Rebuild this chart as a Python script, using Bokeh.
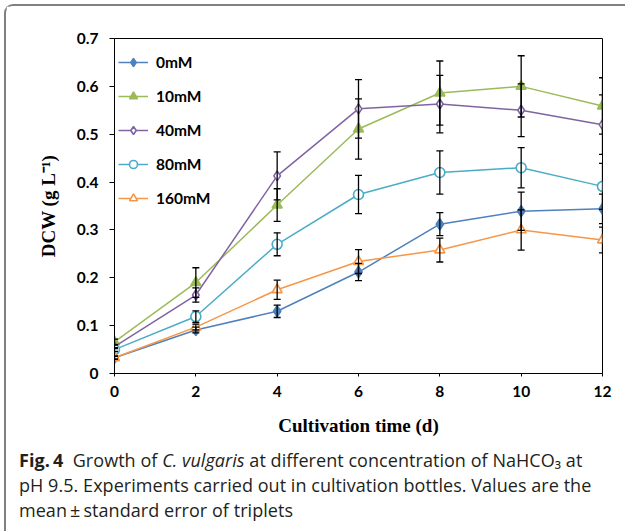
from bokeh.plotting import figure
from bokeh.models import ColumnDataSource, Whisker, TeeHead, Div, FixedTicker, Legend
from bokeh.layouts import column
from bokeh.embed import file_html
from bokeh.resources import INLINE

# ---- data ----
days = [0, 2, 4, 6, 8, 10, 12]
series_names = ["0mM", "10mM", "40mM", "80mM", "160mM"]
dcw_0mM = [0.033, 0.091, 0.130, 0.212, 0.312, 0.339, 0.344]
dcw_10mM = [0.066, 0.190, 0.352, 0.511, 0.586, 0.600, 0.559]
dcw_40mM = [0.056, 0.164, 0.413, 0.553, 0.563, 0.550, 0.520]
dcw_80mM = [0.050, 0.119, 0.270, 0.374, 0.420, 0.430, 0.391]
dcw_160mM = [0.033, 0.097, 0.175, 0.234, 0.258, 0.300, 0.279]
err_0mM = [0.003, 0.006, 0.013, 0.018, 0.024, 0.040, 0.031]
err_10mM = [0.006, 0.031, 0.034, 0.063, 0.067, 0.064, 0.059]
err_40mM = [0.004, 0.015, 0.050, 0.061, 0.060, 0.055, 0.062]
err_80mM = [0.004, 0.012, 0.024, 0.040, 0.045, 0.042, 0.048]
err_160mM = [0.003, 0.006, 0.020, 0.025, 0.025, 0.042, 0.027]
x_ticks = [0, 2, 4, 6, 8, 10, 12]
y_ticks = [0, 0.1, 0.2, 0.3, 0.4, 0.5, 0.6, 0.7]

values = [dcw_0mM, dcw_10mM, dcw_40mM, dcw_80mM, dcw_160mM]
errors = [err_0mM, err_10mM, err_40mM, err_80mM, err_160mM]
colors = ["#4F81BD", "#9BBB59", "#8064A2", "#4BACC6", "#F79646"]
markers = ["diamond", "triangle", "diamond", "circle", "triangle"]
filled = [True, True, False, False, False]
msizes = [11, 10, 10, 10, 10]

p = figure(width=617, height=434, x_range=(0, 12), y_range=(0, 0.7),
           output_backend="svg", toolbar_location=None,
           min_border_left=108, min_border_right=21, min_border_top=32, min_border_bottom=67)
p.grid.visible = False
p.outline_line_color = "black"
p.outline_line_width = 1
p.background_fill_color = "white"
p.border_fill_color = "white"

tick_font = "Lato"
for ax in (p.xaxis[0], p.yaxis[0]):
    ax.major_label_text_font = tick_font
    ax.major_label_text_font_style = "bold"
    ax.major_label_text_font_size = "15.5px"
    ax.major_label_text_color = "black"
    ax.axis_line_color = "black"
    ax.major_tick_line_color = "black"
    ax.minor_tick_line_color = None
    ax.major_tick_in = 0
    ax.axis_label_text_font = "Liberation Serif"
    ax.axis_label_text_font_style = "bold"
    ax.axis_label_text_font_size = "19px"
    ax.axis_label_text_color = "black"

p.xaxis.ticker = FixedTicker(ticks=x_ticks)
p.yaxis.ticker = FixedTicker(ticks=y_ticks)
p.yaxis.major_label_overrides = {0: "0"}
p.xaxis.major_tick_out = 3
p.yaxis.major_tick_out = 5
p.xaxis.major_label_standoff = 9
p.yaxis.major_label_standoff = 11
p.xaxis.axis_label = "Cultivation time (d)"
p.yaxis.axis_label = "DCW (g L\u207b\u00b9)"
p.xaxis.axis_label_standoff = 15
p.yaxis.axis_label_standoff = 15

items = []
for name, v, e, c, m, f, s in zip(series_names, values, errors, colors, markers, filled, msizes):
    src = ColumnDataSource(dict(x=days, y=v,
                                lo=[a - b for a, b in zip(v, e)],
                                hi=[a + b for a, b in zip(v, e)]))
    ln = p.line("x", "y", source=src, line_color=c, line_width=1.5)
    sc = p.scatter("x", "y", source=src, marker=m, size=s,
                   line_color=c, line_width=1.6,
                   fill_color=c if f else "white")
    w = Whisker(base="x", lower="lo", upper="hi", source=src, level="overlay",
                line_color="black", line_width=1.3,
                upper_head=TeeHead(size=7, line_color="black", line_width=1.3),
                lower_head=TeeHead(size=7, line_color="black", line_width=1.3))
    p.add_layout(w)
    items.append((name, [ln, sc]))

leg = Legend(items=items, location=(4, 165), orientation="vertical",
             glyph_width=30, glyph_height=20, label_height=20, spacing=14,
             padding=0, margin=0, border_line_color=None, background_fill_alpha=0,
             label_text_font=tick_font, label_text_font_style="bold",
             label_text_font_size="15.5px", label_text_color="black", label_standoff=8)
p.add_layout(leg, "center")

caption = Div(text=("<b>Fig.&thinsp;4</b>&nbsp; Growth of <i>C. vulgaris</i> at different concentration of "
                    "NaHCO\u2083 at<br>"
                    "pH 9.5. Experiments carried out in cultivation bottles. Values are the<br>"
                    "mean&thinsp;&plusmn;&thinsp;standard error of triplets"),
              width=611, height=88,
              styles={"font-family": "'Open Sans', 'Noto Sans', 'DejaVu Sans'", "font-size": "18px",
                      "line-height": "25px", "letter-spacing": "0.05px",
                      "color": "#231f20", "white-space": "nowrap", "padding-left": "8px",
                      "padding-top": "3px"})

layout = column(p, caption, spacing=0, margin=(4, 0, 0, 4),
                styles={"border-left": "2px solid #808080", "border-top": "2px solid #808080",
                        "border-top-left-radius": "9px"})

open("out.html", "w").write(file_html(layout, INLINE))
